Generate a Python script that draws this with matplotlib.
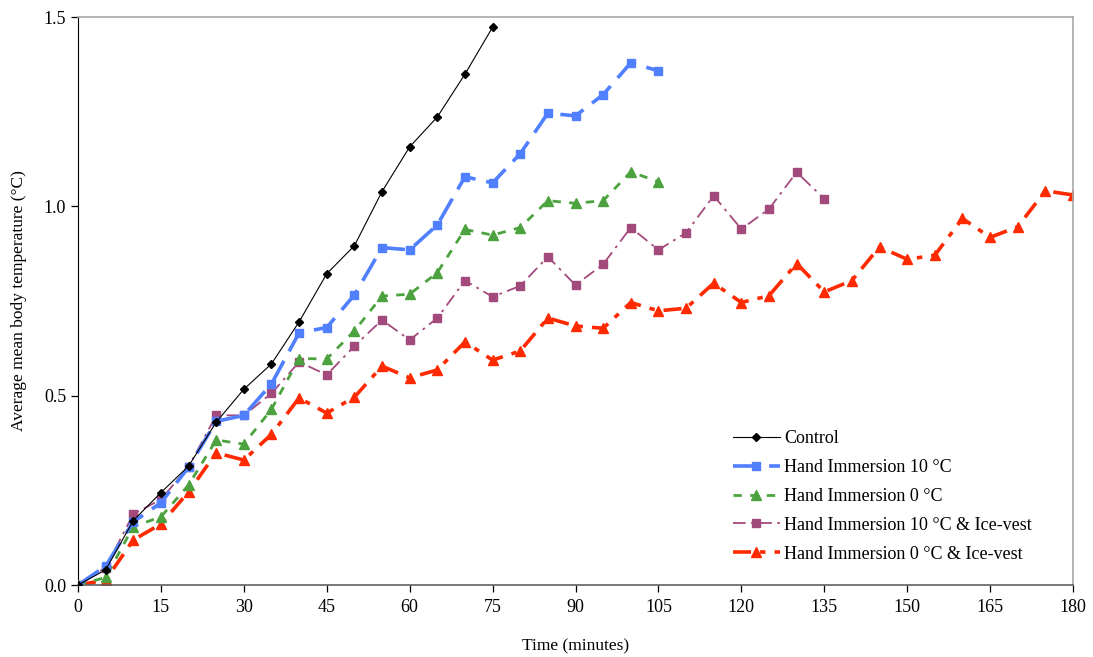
import matplotlib
matplotlib.use("Agg")
from matplotlib import pyplot as plt
import numpy as np

plt.rcParams['font.family'] = ['Liberation Serif', 'DejaVu Serif']

# time points (minutes)
t_control = np.arange(0, 80, 5)
t_hi10 = np.arange(0, 110, 5)
t_hi0 = np.arange(0, 110, 5)
t_hi10_vest = np.arange(0, 140, 5)
t_hi0_vest = np.arange(0, 185, 5)

control = [0.0, 0.04, 0.17, 0.244, 0.314, 0.43, 0.517, 0.584, 0.695, 0.822,
           0.896, 1.039, 1.157, 1.236, 1.349, 1.473]
hi10 = [0.0, 0.05, 0.167, 0.217, 0.311, 0.432, 0.448, 0.531, 0.666, 0.68,
        0.766, 0.891, 0.885, 0.951, 1.078, 1.062, 1.139, 1.246, 1.239, 1.295,
        1.379, 1.358]
hi0 = [0.0, 0.02, 0.154, 0.18, 0.264, 0.383, 0.372, 0.464, 0.598, 0.597,
       0.671, 0.763, 0.768, 0.825, 0.939, 0.924, 0.944, 1.015, 1.008, 1.015,
       1.091, 1.065]
hi10_vest = [0.0, 0.046, 0.187, 0.226, 0.312, 0.448, 0.448, 0.506, 0.589,
             0.555, 0.631, 0.70, 0.647, 0.705, 0.804, 0.761, 0.79, 0.867,
             0.792, 0.847, 0.944, 0.885, 0.930, 1.028, 0.94, 0.993, 1.09, 1.02]
hi0_vest = [0.0, 0.013, 0.119, 0.161, 0.246, 0.349, 0.33, 0.398, 0.494, 0.454,
            0.496, 0.578, 0.547, 0.568, 0.642, 0.594, 0.618, 0.705, 0.684,
            0.678, 0.746, 0.724, 0.731, 0.797, 0.746, 0.764, 0.849, 0.774,
            0.804, 0.893, 0.86, 0.871, 0.968, 0.918, 0.946, 1.041, 1.03]

fig = plt.figure(figsize=(10.93, 6.57), dpi=100)
ax = fig.add_axes([78 / 1093, 1 - 585 / 657, 995 / 1093, 568 / 657])

ax.plot(t_control, control, color='black', lw=0.8, marker='D', ms=4.3,
        label='Control', zorder=6)
ax.plot(t_hi10, hi10, color='#5080ff', lw=2.6, ls=(0, (7, 3)), marker='s',
        ms=6, label='Hand Immersion 10 °C', zorder=5)
ax.plot(t_hi0, hi0, color='#4ca23e', lw=2.0, ls=(0, (3, 3)), marker='^',
        ms=6.5, label='Hand Immersion 0 °C', zorder=4)
ax.plot(t_hi10_vest, hi10_vest, color='#a34a7c', lw=1.3, ls=(0, (7, 3, 1.5, 3)),
        marker='s', ms=5.5, label='Hand Immersion 10 °C & Ice-vest', zorder=3)
ax.plot(t_hi0_vest, hi0_vest, color='#ff2a00', lw=2.6, ls=(0, (5, 2.5, 1.5, 2.5)),
        marker='^', ms=7, label='Hand Immersion 0 °C & Ice-vest', zorder=2)

ax.set_xlim(0, 180)
ax.set_ylim(0, 1.5)
ax.set_xticks(np.arange(0, 181, 15))
ax.set_yticks([0.0, 0.5, 1.0, 1.5])
ax.set_yticklabels(['0.0', '0.5', '1.0', '1.5'])
ax.tick_params(axis='both', direction='out', length=5, labelsize=13, width=0.9)
ax.tick_params(axis='x', pad=5)

for side in ['top', 'right']:
    ax.spines[side].set_color('#a8a8a8')
    ax.spines[side].set_linewidth(1.2)
ax.spines['left'].set_color('black')
ax.spines['bottom'].set_color('#606060')
ax.spines['bottom'].set_linewidth(1.2)

ax.set_xlabel('Time (minutes)', fontsize=12.5, labelpad=16)
ax.set_ylabel('Average mean body temperature (°C)', fontsize=12.5, labelpad=12)

ax.legend(loc='upper left', bbox_to_anchor=(733 / 1093, 1 - 430 / 657),
          bbox_transform=fig.transFigure, frameon=False, fontsize=13,
          handlelength=2.6, handletextpad=0.25, labelspacing=0.66,
          borderaxespad=0, borderpad=0)

fig.savefig('out.png', dpi=100)
